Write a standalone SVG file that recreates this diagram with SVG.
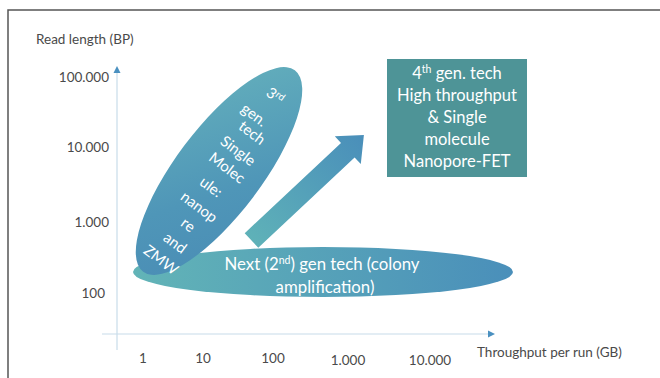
<svg xmlns="http://www.w3.org/2000/svg" width="660" height="378" viewBox="0 0 660 378">
<style>
.ax{font-family:Lato,"Open Sans","Liberation Sans",sans-serif;font-size:13.5px;fill:#4a4a4a}
.wt{font-family:Lato,"Open Sans","Liberation Sans",sans-serif;font-size:16.8px;fill:#ffffff;text-anchor:middle}
.bt{font-family:Lato,"Open Sans","Liberation Sans",sans-serif;font-size:16.5px;fill:#ffffff;text-anchor:middle}
.et{font-family:Lato,"Open Sans","Liberation Sans",sans-serif;font-size:15px;fill:#ffffff;text-anchor:middle}
.axis{stroke:#c8dcea;stroke-width:1.2;fill:none}
</style>
<defs>
<linearGradient id="gTall" gradientUnits="userSpaceOnUse" x1="295" y1="70" x2="150" y2="272">
<stop offset="0" stop-color="#66b2bc"/><stop offset="0.55" stop-color="#4f96b8"/><stop offset="1" stop-color="#4889b4"/>
</linearGradient>
<linearGradient id="gWide" gradientUnits="userSpaceOnUse" x1="133" y1="272" x2="513" y2="272">
<stop offset="0" stop-color="#62b4b7"/><stop offset="1" stop-color="#4a8fba"/>
</linearGradient>
<linearGradient id="gArrow" gradientUnits="userSpaceOnUse" x1="250" y1="242" x2="362" y2="137">
<stop offset="0" stop-color="#5fb2b8"/><stop offset="1" stop-color="#4a8fba"/>
</linearGradient>
</defs>
<rect width="660" height="378" fill="#ffffff"/>
<path d="M8,378 V10 H660" fill="none" stroke="#555555" stroke-width="1.5"/>
<g id="axes">
<line class="axis" x1="117" y1="72" x2="117" y2="350"/>
<polygon points="117,66 113.5,73 120.5,73" fill="#4a90c0"/>
<line class="axis" x1="102" y1="334" x2="489" y2="334"/>
<polygon points="495,334 488,330.5 488,337.5" fill="#4a90c0"/>
<text class="ax" x="36" y="44">Read length (BP)</text>
<text class="ax" x="109" y="82" text-anchor="end">100.000</text>
<text class="ax" x="109" y="152" text-anchor="end">10.000</text>
<text class="ax" x="109" y="227" text-anchor="end">1.000</text>
<text class="ax" x="105" y="298" text-anchor="end">100</text>
<text class="ax" x="143" y="363" text-anchor="middle">1</text>
<text class="ax" x="203" y="363" text-anchor="middle">10</text>
<text class="ax" x="273" y="363" text-anchor="middle">100</text>
<text class="ax" x="348" y="365" text-anchor="middle">1.000</text>
<text class="ax" x="430" y="365" text-anchor="middle">10.000</text>
<text class="ax" x="477" y="357">Throughput per run (GB)</text>
</g>
<g id="next-gen">
<ellipse cx="323" cy="272" rx="190" ry="25" fill="url(#gWide)"/>
<text class="wt" x="322" y="270">Next (2<tspan font-size="10.5" dy="-6">nd</tspan><tspan dy="6">) gen tech (colony</tspan></text>
<text class="wt" x="325" y="293">amplification)</text>
</g>
<g id="connectors">
<polygon points="244.7,233.2 341.0,142.9 334.8,136.3 363.9,135.1 360.8,164.1 354.6,157.5 258.3,247.8" fill="url(#gArrow)"/>
</g>
<g id="third-gen">
<ellipse cx="0" cy="0" rx="126" ry="43" transform="translate(219,171) rotate(-53)" fill="url(#gTall)"/>
<text class="et" transform="translate(275,96) rotate(37)" x="0" y="5">3<tspan font-size="10" dy="-5">rd</tspan></text>
<text class="et" transform="translate(254,115) rotate(37)" x="0" y="5">gen.</text>
<text class="et" transform="translate(252,133) rotate(37)" x="0" y="5">tech</text>
<text class="et" transform="translate(238,151) rotate(37)" x="0" y="5">Single</text>
<text class="et" transform="translate(227,168) rotate(37)" x="0" y="5">Molec</text>
<text class="et" transform="translate(211,187) rotate(37)" x="0" y="5">ule:</text>
<text class="et" transform="translate(199,207) rotate(37)" x="0" y="5">nanop</text>
<text class="et" transform="translate(188,225) rotate(37)" x="0" y="5">re</text>
<text class="et" transform="translate(175,243) rotate(37)" x="0" y="5">and</text>
<text class="et" transform="translate(161,260) rotate(37)" x="0" y="5">ZMW</text>
</g>
<g id="fourth-gen">
<rect x="387" y="59" width="140" height="118" fill="#4e9497"/>
<text class="bt" x="457" y="79">4<tspan font-size="10.5" dy="-6">th</tspan><tspan dy="6"> gen. tech</tspan></text>
<text class="bt" x="457" y="101">High throughput</text>
<text class="bt" x="457" y="123">&amp; Single</text>
<text class="bt" x="457" y="145">molecule</text>
<text class="bt" x="457" y="167">Nanopore-FET</text>
</g>
</svg>
